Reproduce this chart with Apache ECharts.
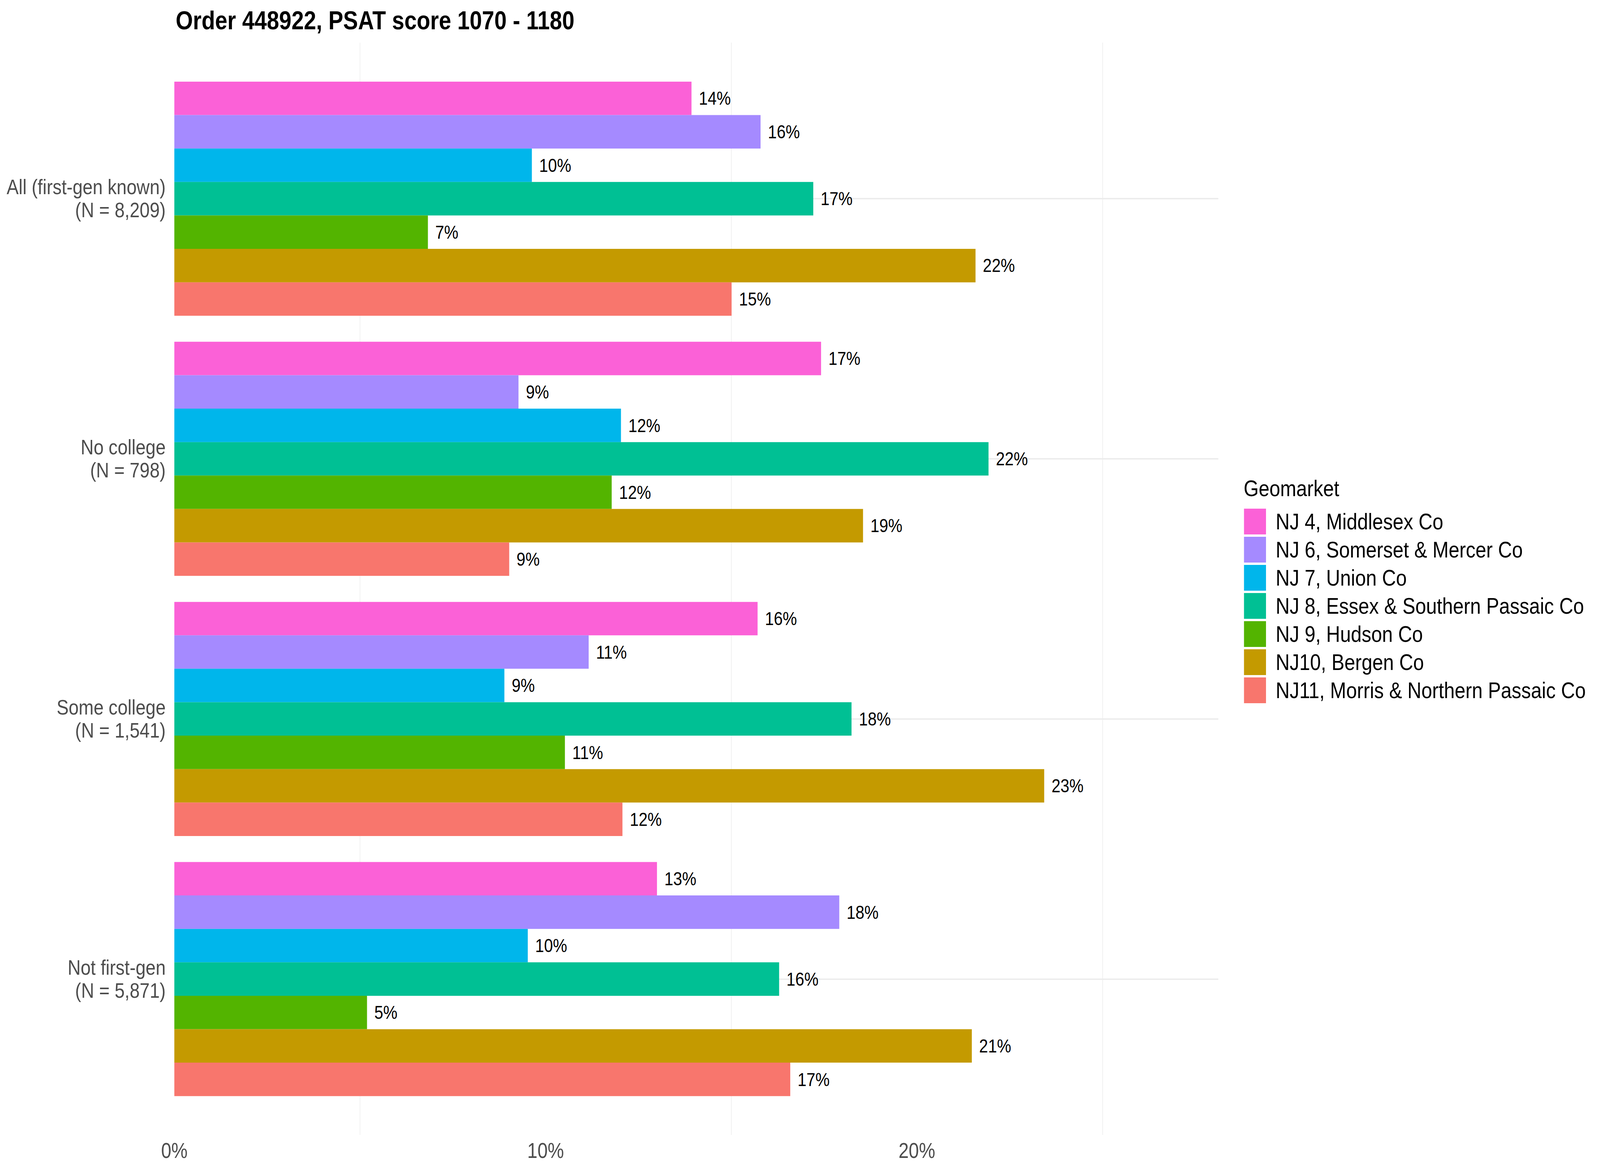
<!DOCTYPE html>
<html>
<head>
<meta charset="utf-8">
<script src="https://cdn.jsdelivr.net/npm/echarts@6/dist/echarts.min.js"></script>
<style>
html,body{margin:0;padding:0;background:#fff;overflow:hidden}
#c{width:4800px;height:3000px;transform-origin:0 0}
</style>
</head>
<body>
<div id="c"></div>
<script>
const titleText = 'Order 448922, PSAT score 1070 - 1180';
const legendTitle = 'Geomarket';
const categories = [
  'All (first-gen known)\n(N = 8,209)',
  'No college\n(N = 798)',
  'Some college\n(N = 1,541)',
  'Not first-gen\n(N = 5,871)'
];
const geomarkets = [
  'NJ 4, Middlesex Co',
  'NJ 6, Somerset & Mercer Co',
  'NJ 7, Union Co',
  'NJ 8, Essex & Southern Passaic Co',
  'NJ 9, Hudson Co',
  'NJ10, Bergen Co',
  'NJ11, Morris & Northern Passaic Co'
];
const colors = ['#FB61D7', '#A58AFF', '#00B6EB', '#00C094', '#53B400', '#C49A00', '#F8766D'];
const nj4  = [13.93, 17.42, 15.71, 13.00];
const nj6  = [15.79, 9.27, 11.16, 17.91];
const nj7  = [9.63, 12.03, 8.89, 9.52];
const nj8  = [17.21, 21.93, 18.24, 16.29];
const nj9  = [6.83, 11.78, 10.52, 5.19];
const nj10 = [21.58, 18.55, 23.43, 21.48];
const nj11 = [15.01, 9.02, 12.07, 16.59];
const xTicks = [0, 10, 20];

const seriesValues = [nj4, nj6, nj7, nj8, nj9, nj10, nj11];
const FONT = '"Liberation Sans", Arial, Helvetica, sans-serif';
const XMAX = 28.12;

// Lay the chart out at the reference's 4800x3000 size, then fit it to the viewport.
const el = document.getElementById('c');
const vw = window.innerWidth || 4800, vh = window.innerHeight || 3000;
el.style.transform = 'scale(' + (vw / 4800) + ',' + (vh / 3000) + ')';

const chart = echarts.init(el, null, {renderer: 'svg', width: 4800, height: 3000});

const series = seriesValues.map((vals, i) => ({
  name: geomarkets[i],
  type: 'bar',
  xAxisIndex: 0,
  yAxisIndex: 0,
  data: vals,
  barGap: '0%',
  barCategoryGap: '10%',
  itemStyle: {color: colors[i]},
  z: 5,
  label: {
    show: true,
    position: 'right',
    distance: 22,
    fontFamily: FONT,
    fontSize: 48,
    color: '#000',
    formatter: p => Math.round(p.value) + '%'
  }
}));

chart.setOption({
  backgroundColor: '#fff',
  animation: false,
  title: [
    {text: titleText, left: 522, top: 13,
     textStyle: {fontFamily: FONT, fontSize: 66.5, fontWeight: 'bold', color: '#000'}},
    {text: legendTitle, left: 3726, top: 1216,
     textStyle: {fontFamily: FONT, fontSize: 58, fontWeight: 'normal', color: '#000'}}
  ],
  legend: {
    orient: 'vertical',
    left: 3727,
    top: 1297,
    itemWidth: 66,
    itemHeight: 66,
    itemGap: 6,
    icon: 'rect',
    selectedMode: false,
    data: geomarkets,
    textStyle: {fontFamily: FONT, fontSize: 58, color: '#000', padding: [0, 0, 0, 24]}
  },
  grid: [
    {left: 523, right: 1145, top: 175.7, bottom: 161},
    {left: 523, right: 1145, top: 508.6, bottom: 494},
    {left: 523, right: 1145, top: 109, bottom: 95}
  ],
  xAxis: [
    {gridIndex: 0, type: 'value', min: 0, max: XMAX, show: false},
    {gridIndex: 1, type: 'value', min: 0, max: XMAX, show: false},
    {gridIndex: 2, type: 'value', min: 0, max: XMAX, interval: 5,
     axisLine: {show: false}, axisTick: {show: false},
     splitLine: {show: true, lineStyle: {color: ['rgba(0,0,0,0)', '#EBEBEB'], width: 1.6}},
     axisLabel: {fontFamily: FONT, fontSize: 55, color: '#4D4D4D', margin: 13,
       formatter: v => xTicks.indexOf(v) >= 0 ? v + '%' : ''}}
  ],
  yAxis: [
    {gridIndex: 0, type: 'category', data: categories, inverse: true,
     axisLine: {show: false}, axisTick: {show: false}, splitLine: {show: false},
     axisLabel: {fontFamily: FONT, fontSize: 54, color: '#4D4D4D', lineHeight: 59, margin: 26, align: 'right'}},
    {gridIndex: 1, type: 'category', data: categories, inverse: true, boundaryGap: false,
     axisLine: {show: false}, axisTick: {show: false}, axisLabel: {show: false},
     splitLine: {show: true, lineStyle: {color: '#EBEBEB', width: 3.3}}},
    {gridIndex: 2, type: 'value', show: false}
  ],
  series: series
});
</script>
</body>
</html>
